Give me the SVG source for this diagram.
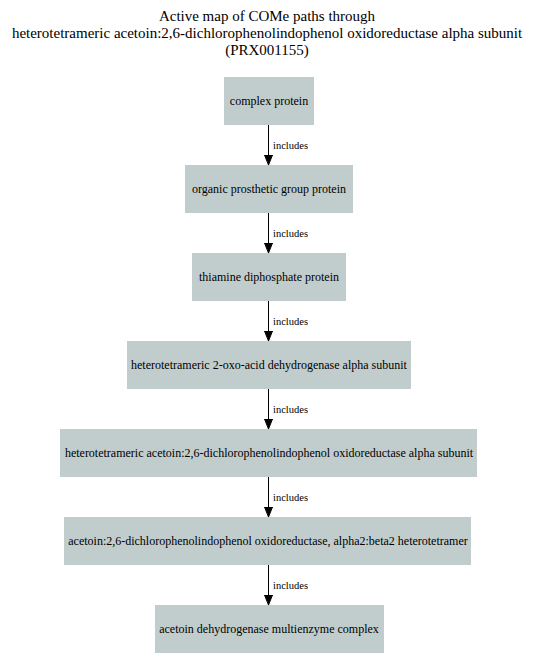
<svg xmlns="http://www.w3.org/2000/svg" width="534" height="670" viewBox="0 0 534 670">
<defs>
<style>
.n{fill:#c1cdcd;stroke:none}
.t{font-family:"Liberation Serif",serif;font-size:12px;text-anchor:middle;fill:#000}
.ti{font-family:"Liberation Serif",serif;font-size:15px;text-anchor:middle;fill:#000}
.e{stroke:#000;stroke-width:1;fill:none}
.l{font-family:"Liberation Serif",serif;font-size:10.5px;fill:#000}
</style>
<marker id="a" markerWidth="10" markerHeight="10" viewBox="0 0 10 10" refX="10" refY="5" orient="auto" markerUnits="userSpaceOnUse">
<path d="M0,1 L10,5 L0,9 Z" fill="#000" stroke="#000"/>
</marker>
</defs>
<rect width="534" height="670" fill="#fff"/>
<text class="ti" x="267" y="21">Active map of COMe paths through</text>
<text class="ti" x="267" y="38">heterotetrameric acetoin:2,6-dichlorophenolindophenol oxidoreductase alpha subunit</text>
<text class="ti" x="267" y="55">(PRX001155)</text>
<g id="edges">
<path class="e" d="M268.5,125 V165" marker-end="url(#a)"/>
<text class="l" x="273" y="149">includes</text>
<path class="e" d="M268.5,213 V253" marker-end="url(#a)"/>
<text class="l" x="273" y="237">includes</text>
<path class="e" d="M268.5,301 V341" marker-end="url(#a)"/>
<text class="l" x="273" y="325">includes</text>
<path class="e" d="M268.5,389 V429" marker-end="url(#a)"/>
<text class="l" x="273" y="413">includes</text>
<path class="e" d="M268.5,477 V517" marker-end="url(#a)"/>
<text class="l" x="273" y="501">includes</text>
<path class="e" d="M268.5,565 V605" marker-end="url(#a)"/>
<text class="l" x="273" y="589">includes</text>
</g>
<g id="n1"><rect class="n" x="224" y="77" width="90" height="48"/><text class="t" x="269" y="105">complex protein</text></g>
<g id="n2"><rect class="n" x="185" y="165" width="168" height="48"/><text class="t" x="269" y="193">organic prosthetic group protein</text></g>
<g id="n3"><rect class="n" x="192" y="253" width="154" height="48"/><text class="t" x="269" y="281">thiamine diphosphate protein</text></g>
<g id="n4"><rect class="n" x="127" y="341" width="284" height="48"/><text class="t" x="269" y="369">heterotetrameric 2-oxo-acid dehydrogenase alpha subunit</text></g>
<g id="n5"><rect class="n" x="60" y="429" width="417" height="48"/><text class="t" x="269" y="457">heterotetrameric acetoin:2,6-dichlorophenolindophenol oxidoreductase alpha subunit</text></g>
<g id="n6"><rect class="n" x="64" y="517" width="407" height="48"/><text class="t" x="268" y="545">acetoin:2,6-dichlorophenolindophenol oxidoreductase, alpha2:beta2 heterotetramer</text></g>
<g id="n7"><rect class="n" x="155" y="605" width="229" height="48"/><text class="t" x="269" y="633">acetoin dehydrogenase multienzyme complex</text></g>
</svg>
